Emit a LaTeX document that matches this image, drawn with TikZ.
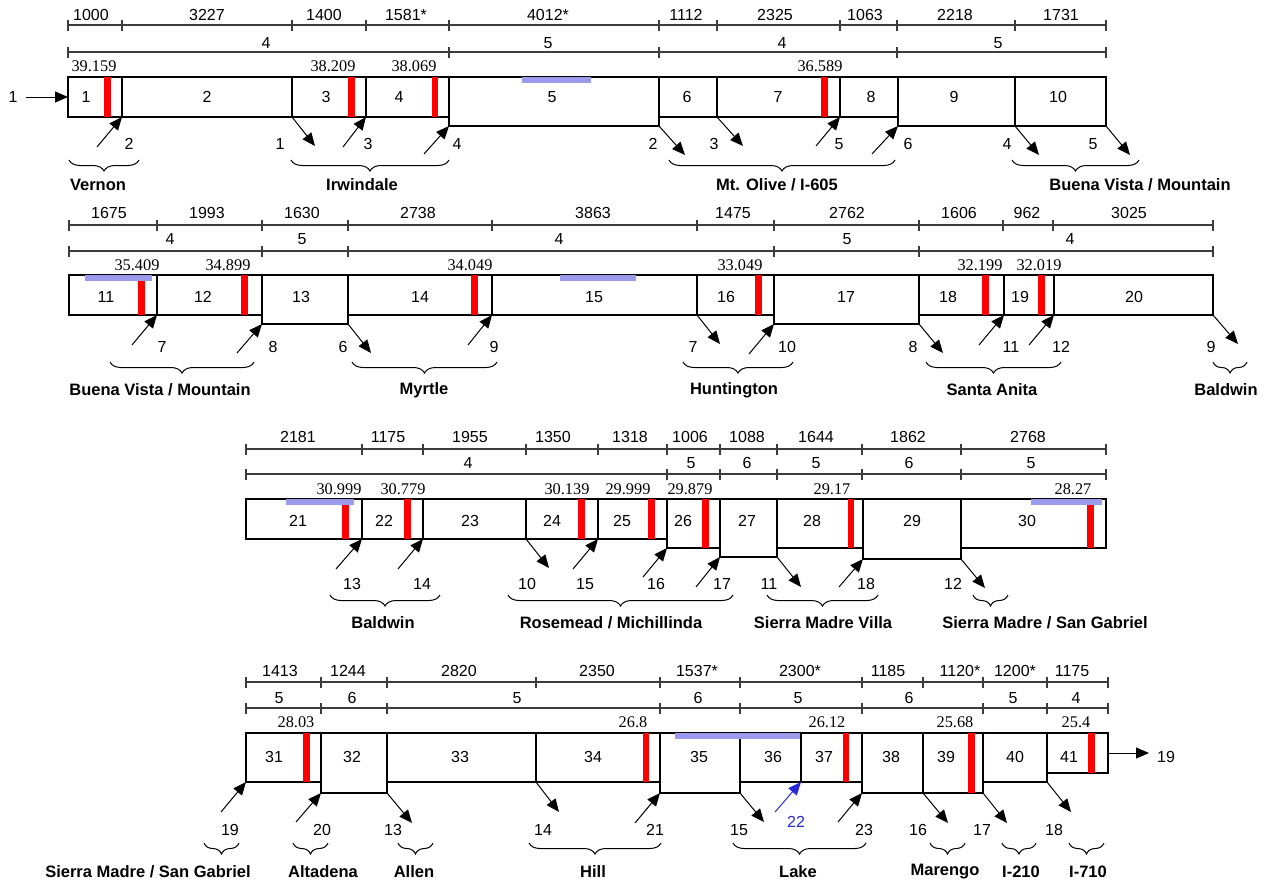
\documentclass[tikz,border=0pt]{standalone}
\usepackage{fontspec}
\setmainfont{Liberation Sans}
\newfontfamily\tms{Liberation Serif}
\usetikzlibrary{arrows.meta,decorations.pathreplacing}
\definecolor{bluebar}{RGB}{155,155,235}
\definecolor{dimgray}{RGB}{60,60,60}
\definecolor{lblue}{RGB}{40,40,215}
\newcommand\bx[5]{\node[boxst,minimum width={(#3-#2)*1pt},minimum height={(#5-#4)*1pt}] (b#1) at ({(#2+#3)/2},{(#4+#5)/2}) {};}
\newcommand\dimln[5]{\coordinate (#1a) at (#3,#2); \coordinate (#1b) at (#4,#2); \draw[dimst] (#1a) -- (#1b); \foreach \t in {#5} \draw[dimst] (\t,#2-5) -- (\t,#2+6);}
\newcommand\arin[5]{\coordinate (#1) at (#2); \draw[arr] (#1) -- (#3); \node[dtxt] (#1t) at (#4) {#5};}
\newcommand\arout[5]{\coordinate (#1) at (#3); \draw[arr] (#2) -- (#1); \node[dtxt] (#1t) at (#4) {#5};}
\newcommand\brc[7]{\coordinate (#1l) at (#2,#4); \coordinate (#1r) at (#3,#4); \draw[brst] (#1l) -- (#1r); \node[brtxt] (#1t) at (#5,#6) {#7};}
\begin{document}
\begin{tikzpicture}[x=1pt,y=-1pt,
  boxst/.style={draw=black,line width=1.2pt,inner sep=0pt,outer sep=0pt},
  dimst/.style={draw=dimgray,line width=1.2pt},
  dtxt/.style={font=\fontsize{16}{19}\selectfont,inner sep=0pt},
  mp/.style={font=\tms\fontsize{16.3}{19}\selectfont,inner sep=0pt},
  brtxt/.style={font=\bfseries\fontsize{16.5}{19}\selectfont,inner sep=0pt},
  arr/.style={draw=black,line width=1pt,-{Triangle[length=13pt,width=11pt]}},
  brst/.style={draw=black,line width=1pt,decorate,decoration={brace,mirror,amplitude=11pt}},
  redbar/.style={fill=red},
  bluefill/.style={fill=bluebar}]
\useasboundingbox (0,0) rectangle (1267,884);

% ================= ROW 1 =================
\dimln{d1}{25}{68}{1106}{68,122,292,366,449,659,717,840,897,1015,1106}
\foreach \x/\t [count=\i] in {91/1000,207/3227,324/1400,406/1581*,548/4012*,686/1112,775/2325,865/1063,955/2218,1061/1731} \node[dtxt] (d1t\i) at (\x,15) {\t};
\dimln{e1}{52}{68}{1106}{68,449,659,897,1106}
\foreach \x/\t [count=\i] in {266/4,548/5,782/4,998/5} \node[dtxt] (e1t\i) at (\x,43) {\t};
\foreach \x/\t [count=\i] in {94/39.159,333/38.209,414/38.069,820/36.589} \node[mp] (m1t\i) at (\x,66) {\t};
\bx{1}{68}{122}{77}{117}
\bx{2}{122}{292}{77}{117}
\bx{3}{292}{366}{77}{117}
\bx{4}{366}{449}{77}{117}
\bx{5}{449}{659}{77}{126}
\bx{6}{659}{717}{77}{117}
\bx{7}{717}{840}{77}{117}
\bx{8}{840}{898}{77}{117}
\bx{9}{898}{1015}{77}{126}
\bx{10}{1015}{1106}{77}{126}
\foreach \a/\b/\u/\v in {104/111/77/117,348/355/77/117,432/438/77/117,821/828/77/117} \fill[redbar] (\a,\u) rectangle (\b,\v);
\fill[bluefill] (522,77) rectangle (591,83);
\foreach \x/\t in {86/1,207/2,326/3,399/4,552/5,687/6,778/7,871/8,954/9,1058/10} \node[dtxt] (l\t) at (\x,97) {\t};
\coordinate (in1) at (26,97); \draw[arr] (in1) -- (b1.west); \node[dtxt] (in1t) at (13,97) {1};
\arin{a1}{97,147}{b1.south east}{129,144}{2}
\arout{a2}{b2.south east}{315,146}{280,144}{1}
\arin{a3}{343,147}{b3.south east}{368,144}{3}
\arin{a4}{424,154}{b5.south west}{457,144}{4}
\arout{a5}{b5.south east}{685,155}{653,144}{2}
\arout{a6}{b6.south east}{743,146}{714,144}{3}
\arin{a7}{816,146}{b7.south east}{839,144}{5}
\arin{a8}{872,154}{b9.south west}{908,144}{6}
\arout{a9}{b9.south east}{1039,155}{1007,144}{4}
\arout{a10}{b10.south east}{1130,155}{1093,144}{5}
\brc{c1}{69}{139}{160}{98}{185}{Vernon}
\brc{c2}{291}{449}{160}{362}{185}{Irwindale}
\brc{c3}{669}{895}{160}{777}{185}{Mt. Olive / I-605}
\brc{c4}{1012}{1139}{160}{1140}{185}{Buena Vista / Mountain}

% ================= ROW 2 =================
\dimln{d2}{225}{69}{1213}{69,157,262,348,492,697,774,919,1003,1053,1213}
\foreach \x/\t [count=\i] in {109/1675,207/1993,302/1630,418/2738,593/3863,733/1475,847/2762,959/1606,1027/962,1129/3025} \node[dtxt] (d2t\i) at (\x,213) {\t};
\dimln{e2}{251}{69}{1213}{69,262,348,774,919,1213}
\foreach \x/\t [count=\i] in {170/4,302/5,559/4,847/5,1070/4} \node[dtxt] (e2t\i) at (\x,239) {\t};
\foreach \x/\t [count=\i] in {137/35.409,228/34.899,470/34.049,740/33.049,980/32.199,1039/32.019} \node[mp] (m2t\i) at (\x,265) {\t};
\bx{11}{69}{157}{275}{315}
\bx{12}{157}{262}{275}{315}
\bx{13}{262}{348}{275}{324}
\bx{14}{348}{492}{275}{315}
\bx{15}{492}{697}{275}{315}
\bx{16}{697}{774}{275}{315}
\bx{17}{774}{919}{275}{324}
\bx{18}{919}{1004}{275}{315}
\bx{19}{1004}{1054}{275}{315}
\bx{20}{1054}{1213}{275}{315}
\foreach \a/\b/\u/\v in {138/144.5/281/315,241/248/275/315,471/478/275/315,755/762/275/315,982/989/275/315,1038/1045/275/315} \fill[redbar] (\a,\u) rectangle (\b,\v);
\fill[bluefill] (85,275) rectangle (152,281);
\fill[bluefill] (560,275) rectangle (636,281);
\foreach \x/\t in {106/11,203/12,301/13,420/14,594/15,726/16,846/17,948/18,1020/19,1134/20} \node[dtxt] (l\t) at (\x,297) {\t};
\arin{a11}{132,345}{b11.south east}{162,347}{7}
\arin{a12}{237,353}{b13.south west}{273,347}{8}
\arout{a13}{b13.south east}{371,353}{343,347}{6}
\arin{a14}{468,345}{b14.south east}{494,347}{9}
\arout{a15}{b15.south east}{720,344}{693,347}{7}
\arin{a16}{749,354}{b17.south west}{787,347}{10}
\arout{a17}{b17.south east}{943,353}{913,347}{8}
\arin{a18}{979,345}{b18.south east}{1011,347}{11}
\arin{a19}{1029,345}{b19.south east}{1061,347}{12}
\arout{a20}{b20.south east}{1238,344}{1211,347}{9}
\brc{c5}{110}{254}{362}{160}{390}{Buena Vista / Mountain}
\brc{c6}{352}{497}{362}{424}{390}{Myrtle}
\brc{c7}{683}{793}{362}{734}{390}{Huntington}
\brc{c8}{926}{1061}{362}{992}{390}{Santa Anita}
\brc{c9}{1213}{1247}{362}{1226}{390}{Baldwin}

% ================= ROW 3 =================
\dimln{d3}{449}{246}{1106}{246,362,423,526,598,667,720,777,862,961,1106}
\foreach \x/\t [count=\i] in {298/2181,388/1175,470/1955,553/1350,630/1318,690/1006,747/1088,816/1644,908/1862,1028/2768} \node[dtxt] (d3t\i) at (\x,437) {\t};
\dimln{e3}{474}{246}{1106}{246,667,720,777,862,961,1106}
\foreach \x/\t [count=\i] in {468/4,691/5,747/6,816/5,909/6,1031/5} \node[dtxt] (e3t\i) at (\x,463) {\t};
\foreach \x/\t [count=\i] in {339/30.999,403/30.779,567/30.139,628/29.999,690/29.879,832/29.17,1073/28.27} \node[mp] (m3t\i) at (\x,489) {\t};
\bx{21}{246}{362}{499}{539}
\bx{22}{362}{423}{499}{539}
\bx{23}{423}{526}{499}{539}
\bx{24}{526}{598}{499}{539}
\bx{25}{598}{667}{499}{539}
\bx{26}{667}{720}{499}{548}
\bx{27}{720}{777}{499}{557}
\bx{28}{777}{863}{499}{548}
\bx{29}{863}{961}{499}{559}
\bx{30}{961}{1106}{499}{548}
\foreach \a/\b/\u/\v in {342/349/505/539,404/411/499/539,578/585/499/539,648/655/499/539,702/709/499/548,848/854/499/548,1087/1094/505/548} \fill[redbar] (\a,\u) rectangle (\b,\v);
\fill[bluefill] (286,499) rectangle (354,505);
\fill[bluefill] (1031,499) rectangle (1102,505);
\foreach \x/\t in {298/21,384/22,470/23,552/24,622/25,683/26,747/27,812/28,912/29,1027/30} \node[dtxt] (l\t) at (\x,521) {\t};
\arin{a21}{336,569}{b21.south east}{352,584}{13}
\arin{a22}{398,569}{b22.south east}{422,584}{14}
\arout{a23}{b23.south east}{549,568}{527,584}{10}
\arin{a24}{573,569}{b24.south east}{585,584}{15}
\arin{a25}{643,577}{b26.south west}{656,584}{16}
\arin{a26}{696,587}{b27.south west}{722,584}{17}
\arout{a27}{b27.south east}{801,587}{769,584}{11}
\arin{a28}{839,587}{b29.south west}{866,584}{18}
\arout{a29}{b29.south east}{985,588}{953,584}{12}
\brc{c10}{330}{440}{595}{383}{623}{Baldwin}
\brc{c11}{508}{733}{595}{611}{623}{Rosemead / Michillinda}
\brc{c12}{767}{878}{595}{823}{623}{Sierra Madre Villa}
\brc{c13}{973}{1008}{595}{1045}{623}{Sierra Madre / San Gabriel}

% ================= ROW 4 =================
\dimln{d4}{682}{246}{1108}{246,321,387,536,660,740,862,923,983,1047,1108}
\foreach \x/\t [count=\i] in {280/1413,348/1244,459/2820,597/2350,697/1537*,800/2300*,888/1185,960/1120*,1015/1200*,1072/1175} \node[dtxt] (d4t\i) at (\x,671) {\t};
\dimln{e4}{708}{246}{1108}{246,321,387,660,740,862,983,1047,1108}
\foreach \x/\t [count=\i] in {279/5,352/6,517/5,698/6,798/5,909/6,1013/5,1076/4} \node[dtxt] (e4t\i) at (\x,698) {\t};
\foreach \x/\t [count=\i] in {296/28.03,633/26.8,827/26.12,955/25.68,1076/25.4} \node[mp] (m4t\i) at (\x,722) {\t};
\bx{31}{246}{321}{733}{782}
\bx{32}{321}{387}{733}{793}
\bx{33}{387}{536}{733}{782}
\bx{34}{536}{660}{733}{782}
\bx{35}{660}{740}{733}{793}
\bx{36}{740}{801}{733}{782}
\bx{37}{801}{862}{733}{782}
\bx{38}{862}{923}{733}{793}
\bx{39}{923}{983}{733}{793}
\bx{40}{983}{1047}{733}{782}
\bx{41}{1047}{1108}{733}{773}
\foreach \a/\b/\u/\v in {303/310/733/782,643/649/733/782,843/849/733/782,968/975/733/793,1088/1095/733/773} \fill[redbar] (\a,\u) rectangle (\b,\v);
\fill[bluefill] (675,733) rectangle (800,739);
\foreach \x/\t in {274/31,352/32,460/33,593/34,699/35,773/36,824/37,891/38,946/39,1015/40,1069/41} \node[dtxt] (l\t) at (\x,757) {\t};
\arin{a31}{221,812}{b31.south west}{230,830}{19}
\arin{a32}{296,822}{b32.south west}{322,830}{20}
\arout{a33}{b32.south east}{412,823}{393,830}{13}
\arout{a34}{b33.south east}{559,812}{543,830}{14}
\arin{a35}{635,823}{b35.south west}{655,830}{21}
\arout{a36}{b35.south east}{764,822}{739,830}{15}
\coordinate (a37) at (775,812); \draw[arr,draw=lblue] (a37) -- (b36.south east); \node[dtxt,text=lblue] (a37t) at (796,822) {22};
\arin{a38}{838,822}{b38.south west}{864,830}{23}
\arout{a39}{b38.south east}{948,823}{918,830}{16}
\arout{a40}{b39.south east}{1007,823}{982,830}{17}
\arout{a41}{b40.south east}{1071,812}{1054,830}{18}
\arout{a42}{b41.east}{1149,753}{1166,757}{19}
\brc{c14}{204}{239}{843}{148}{872}{Sierra Madre / San Gabriel}
\brc{c15}{293}{328}{843}{323}{872}{Altadena}
\brc{c16}{398}{433}{843}{414}{872}{Allen}
\brc{c17}{529}{661}{843}{593}{872}{Hill}
\brc{c18}{733}{866}{843}{798}{872}{Lake}
\brc{c19}{930}{965}{843}{945}{872}{Marengo}
\brc{c20}{1002}{1036}{843}{1021}{872}{I-210}
\brc{c21}{1069}{1104}{843}{1088}{872}{I-710}
\end{tikzpicture}
\end{document}
